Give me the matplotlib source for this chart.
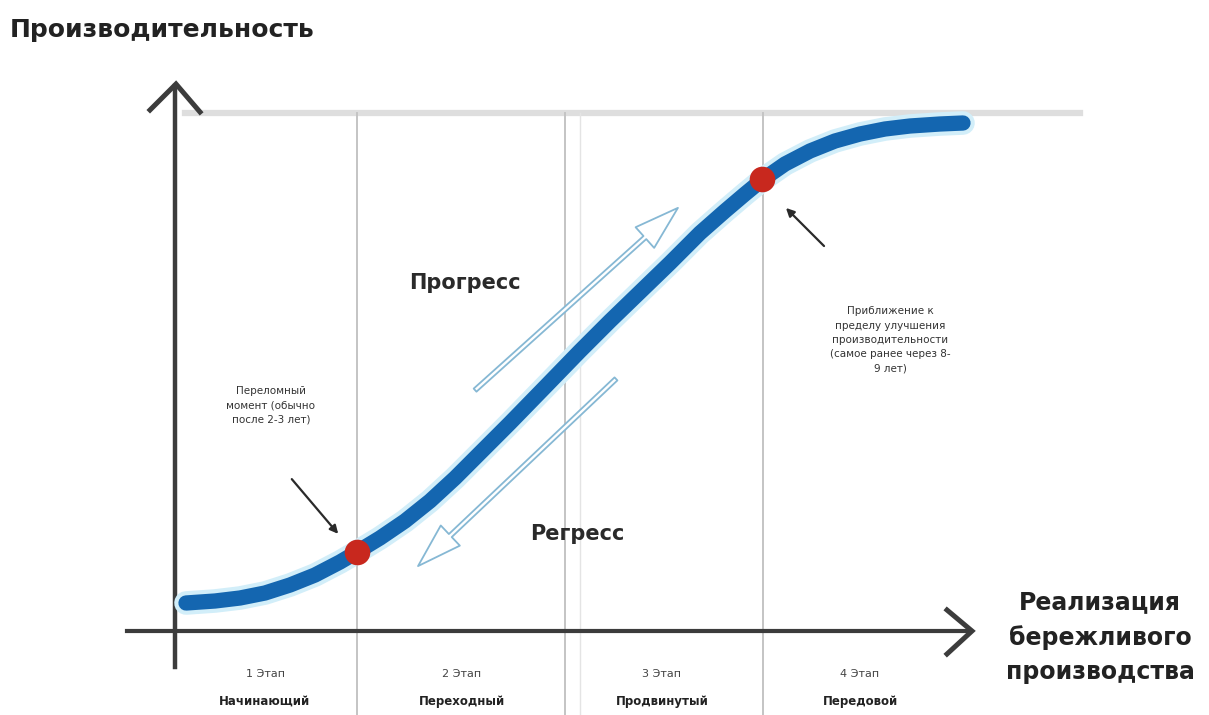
import numpy as np
import matplotlib.pyplot as plt
from matplotlib.patches import FancyArrowPatch

plt.rcParams['font.family'] = ['DejaVu Sans']

# diagram is laid out in picture coordinates (x right, y down)
W, H = 1209, 715

# S-curve
curve_x = [186, 215, 240, 265, 290, 315, 340, 357, 380, 405, 430, 455,
           480, 510, 547, 580, 610, 640, 670, 700, 725, 745, 762, 785,
           810, 835, 860, 885, 910, 940, 963]
curve_y = [603, 601, 598, 593, 585, 575, 562, 552, 538, 521, 501, 478,
           453, 423, 385, 351, 321, 292, 263, 233, 211, 194, 180, 164,
           151, 141, 134, 129, 126, 124, 123]

# turning points on the curve
dot_x = [357, 762]
dot_y = [552, 179]

# stage borders and labels
stage_lines = [357, 565, 763]
stage_centers = [265, 462, 662, 860]
stage_num = ["1 Этап", "2 Этап", "3 Этап", "4 Этап"]
stage_name = ["Начинающий", "Переходный", "Продвинутый", "Передовой"]

y_label = "Производительность"
x_label = "Реализация\nбережливого\nпроизводства"
left_note = "Переломный\nмомент (обычно\nпосле 2-3 лет)"
right_note = ("Приближение к\nпределу улучшения\nпроизводительности\n"
              "(самое ранее через 8-\n9 лет)")

fig = plt.figure(figsize=(W / 100, H / 100), dpi=100)
ax = fig.add_axes([0, 0, 1, 1])
ax.set_xlim(0, W)
ax.set_ylim(H, 0)
ax.axis('off')

# top guide line and stage separators
ax.plot([185, 1080], [113, 113], color='#dedede', lw=4.5, zorder=1)
for sx in stage_lines:
    ax.plot([sx, sx], [113, H], color='#c4c4c4', lw=1.4, zorder=1)
ax.plot([580, 580], [113, H], color='#e4e4e4', lw=1.0, zorder=1)

# axes with open arrowheads
axis_c = '#3c3c3c'
ax.plot([175, 175], [667, 86], color=axis_c, lw=3.2, zorder=3)
ax.plot([150, 176, 200], [110, 84, 112], color=axis_c, lw=3.6,
        solid_joinstyle='miter', zorder=3)
ax.plot([127, 968], [631, 631], color=axis_c, lw=3.0, zorder=3)
ax.plot([947, 972, 947], [610, 631, 654], color=axis_c, lw=3.6,
        solid_joinstyle='miter', zorder=3)

# curve with soft glow
ax.plot(curve_x, curve_y, color='#d2eef9', lw=17, solid_capstyle='round',
        solid_joinstyle='round', zorder=4)
ax.plot(curve_x, curve_y, color='#1466b0', lw=11, solid_capstyle='round',
        solid_joinstyle='round', zorder=5)
ax.scatter(dot_x, dot_y, s=340, color='#c8281e', zorder=6, linewidths=0)

# progress / regress arrows
arr_c = '#86b8d4'
style = 'simple,head_width=20,head_length=32,tail_width=3'
prog = FancyArrowPatch((473, 392), (680, 206), arrowstyle=style,
                       fc='white', ec=arr_c, lw=1.3, zorder=4)
regr = FancyArrowPatch((618, 377), (416, 568), arrowstyle=style,
                       fc='white', ec=arr_c, lw=1.3, zorder=4)
ax.add_patch(prog)
ax.add_patch(regr)

# pointer arrows to the dots
for tail, head in [((290, 477), (340, 536)), ((826, 248), (784, 206))]:
    ax.annotate('', xy=head, xytext=tail,
                arrowprops=dict(arrowstyle='-|>', color='#2a2a2a', lw=1.6,
                                mutation_scale=12), zorder=7)

# texts
ax.text(10, 30, y_label, fontsize=18, fontweight='bold', color='#222222',
        ha='left', va='center')
ax.text(1100, 637, x_label, fontsize=17, fontweight='bold', color='#222222',
        ha='center', va='center', linespacing=1.55)
ax.text(465, 283, "Прогресс", fontsize=15, fontweight='bold', color='#2a2a2a',
        ha='center', va='center')
ax.text(577, 534, "Регресс", fontsize=15, fontweight='bold', color='#2a2a2a',
        ha='center', va='center')
ax.text(271, 405, left_note, fontsize=7.5, color='#333333', ha='center',
        va='center', linespacing=1.55)
ax.text(890, 340, right_note, fontsize=7.5, color='#333333', ha='center',
        va='center', linespacing=1.55)

for cx, num, name in zip(stage_centers, stage_num, stage_name):
    ax.text(cx, 674, num, fontsize=8, color='#444444', ha='center', va='center')
    ax.text(cx, 701, name, fontsize=8.5, fontweight='bold', color='#222222',
            ha='center', va='center')

fig.savefig('out.png', dpi=100, facecolor='white')
